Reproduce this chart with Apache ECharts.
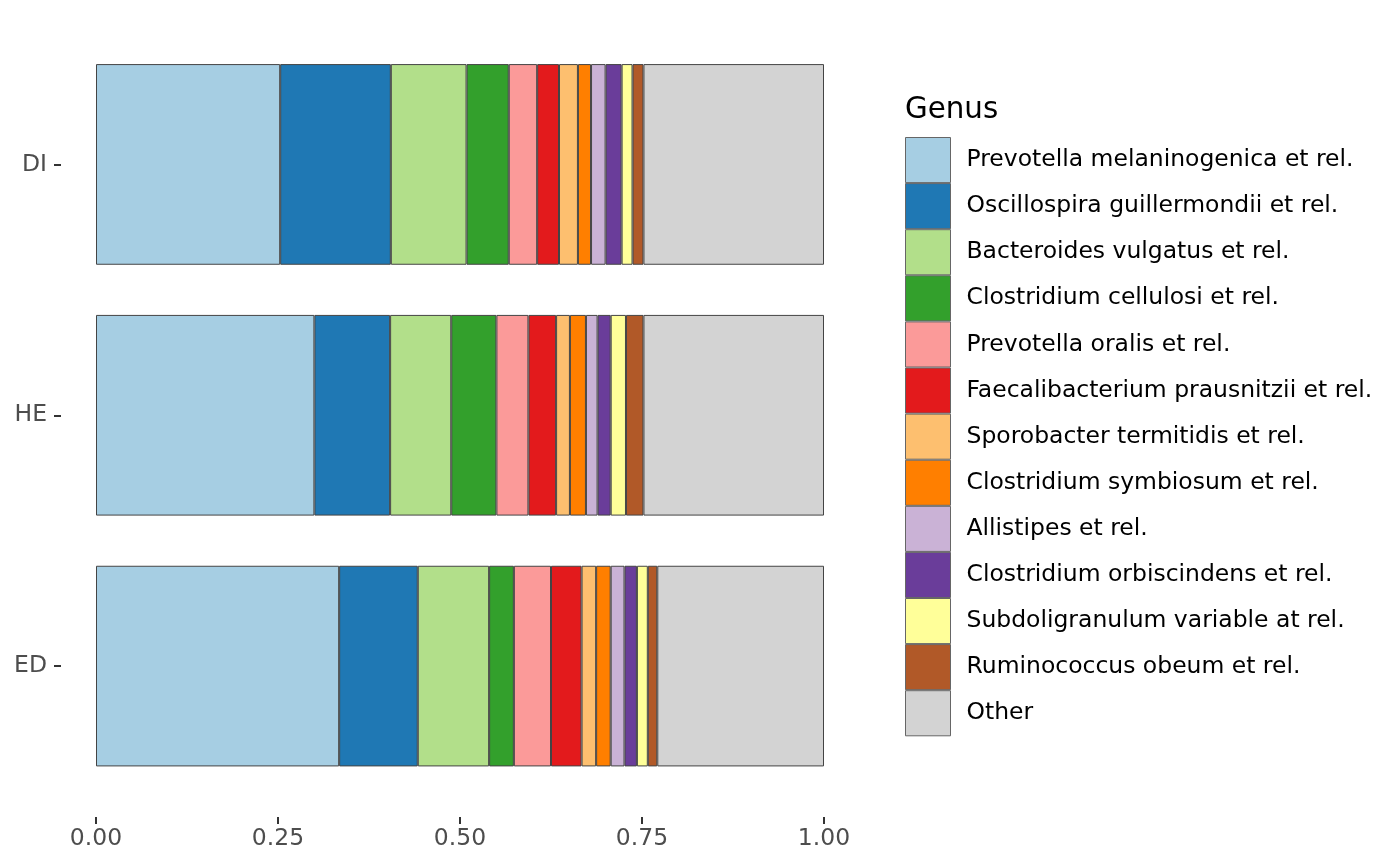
<!DOCTYPE html>
<html>
<head>
<meta charset="utf-8">
<style>html,body{margin:0;padding:0;background:#fff}#c{width:1400px;height:866px}</style>
<script src="https://cdn.jsdelivr.net/npm/echarts@6/dist/echarts.min.js"></script>
</head>
<body>
<div id="c"></div>
<script>
// categories bottom to top
const categories = ['ED', 'HE', 'DI'];
const genera = [
  'Prevotella melaninogenica et rel.',
  'Oscillospira guillermondii et rel.',
  'Bacteroides vulgatus et rel.',
  'Clostridium cellulosi et rel.',
  'Prevotella oralis et rel.',
  'Faecalibacterium prausnitzii et rel.',
  'Sporobacter termitidis et rel.',
  'Clostridium symbiosum et rel.',
  'Allistipes et rel.',
  'Clostridium orbiscindens et rel.',
  'Subdoligranulum variable at rel.',
  'Ruminococcus obeum et rel.',
  'Other'
];
const colors = ['#A6CEE3','#1F78B4','#B2DF8A','#33A02C','#FB9A99','#E31A1C','#FDBF6F','#FF7F00','#CAB2D6','#6A3D9A','#FFFF99','#B15928','#D3D3D3'];
// values per genus: [ED, HE, DI]
const prevotellaMel   = [0.334, 0.300, 0.253];
const oscillospira    = [0.108, 0.104, 0.152];
const bacteroides     = [0.098, 0.084, 0.104];
const clostCellulosi  = [0.034, 0.062, 0.058];
const prevotellaOral  = [0.051, 0.044, 0.039];
const faecali         = [0.042, 0.038, 0.030];
const sporobacter     = [0.020, 0.019, 0.026];
const clostSymbiosum  = [0.020, 0.022, 0.018];
const allistipes      = [0.019, 0.016, 0.020];
const clostOrbis      = [0.017, 0.018, 0.022];
const subdoli         = [0.015, 0.021, 0.015];
const ruminococcus    = [0.013, 0.024, 0.015];
const other           = [0.229, 0.248, 0.248];
const seriesValues = [prevotellaMel, oscillospira, bacteroides, clostCellulosi, prevotellaOral, faecali, sporobacter, clostSymbiosum, allistipes, clostOrbis, subdoli, ruminococcus, other];
const xTickLabels = ['0.00', '0.25', '0.50', '0.75', '1.00'];

const font = 'DejaVu Sans';
const axisFont = 23.47;
const tickStyle = {color: '#333', width: 2};
const chart = echarts.init(document.getElementById('c'), null, {renderer: 'canvas'});
chart.setOption({
  animation: false,
  backgroundColor: '#fff',
  color: colors,
  title: {
    text: 'Genus', left: 905, top: 96, padding: 0,
    textStyle: {fontFamily: font, fontSize: 29.33, fontWeight: 'normal', color: '#000'}
  },
  legend: {
    orient: 'vertical', left: 905, top: 137, padding: 0,
    itemWidth: 45, itemHeight: 45.1, itemGap: 0,
    icon: 'rect',
    data: genera,
    itemStyle: {borderColor: '#666', borderWidth: 1},
    textStyle: {fontFamily: font, fontSize: axisFont, color: '#000', padding: [2, 0, 0, 11]}
  },
  grid: [
    {left: 96, width: 728, top: 39, bottom: 74.5},   // bars
    {left: 61, width: 763, top: 39, bottom: 74.5},   // y-axis labels / ticks
    {left: 96, width: 728, top: 39, bottom: 49}      // x-axis labels / ticks
  ],
  xAxis: [
    {gridIndex: 0, type: 'value', min: 0, max: 1, show: false, splitLine: {show: false}},
    {gridIndex: 1, type: 'value', min: 0, max: 1, show: false, splitLine: {show: false}},
    {
      gridIndex: 2, type: 'value', min: 0, max: 1, interval: 0.25,
      axisLine: {show: false},
      axisTick: {show: true, length: 7, lineStyle: tickStyle},
      splitLine: {show: false},
      axisLabel: {
        margin: 10, fontFamily: font, fontSize: axisFont, color: '#4D4D4D',
        formatter: v => xTickLabels[Math.round(v / 0.25)]
      }
    }
  ],
  yAxis: [
    {gridIndex: 0, type: 'category', data: categories, show: false},
    {
      gridIndex: 1, type: 'category', data: categories,
      axisLine: {show: false},
      axisTick: {show: true, alignWithLabel: true, length: 7, lineStyle: tickStyle},
      splitLine: {show: false},
      axisLabel: {margin: 14, fontFamily: font, fontSize: axisFont, color: '#4D4D4D', padding: [3, 0, 0, 0]}
    },
    {gridIndex: 2, type: 'category', data: categories, show: false}
  ],
  series: genera.map((g, i) => ({
    name: g, type: 'bar', stack: 'total', barCategoryGap: '20%',
    xAxisIndex: 0, yAxisIndex: 0,
    data: seriesValues[i],
    itemStyle: {color: colors[i], borderColor: '#444', borderWidth: 1}
  }))
});
</script>
</body>
</html>
